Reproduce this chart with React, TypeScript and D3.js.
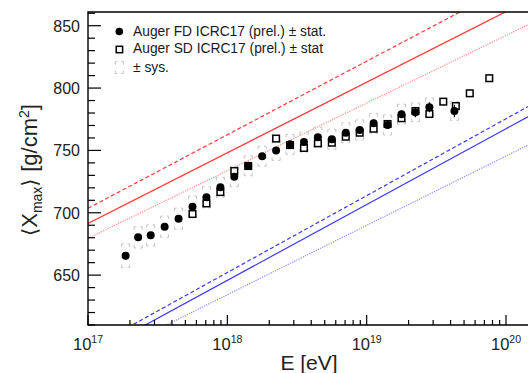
import React, { useEffect, useRef } from 'react';
import * as d3 from 'd3';

// Auger FD (filled circles): log10(E/eV), <Xmax>, stat and sys errors
const fdLgE = [17.27, 17.36, 17.45, 17.55, 17.65, 17.75, 17.85, 17.95, 18.05, 18.15, 18.25, 18.35, 18.45, 18.55, 18.65, 18.75, 18.85, 18.95, 19.05, 19.15, 19.25, 19.35, 19.45, 19.63];
const fdXmax = [665.5, 680.3, 681.9, 688.8, 695.2, 704.8, 712.4, 720.4, 728.9, 737.7, 745.3, 750.0, 754.9, 756.7, 760.5, 758.9, 764.2, 766.4, 771.7, 770.4, 779.0, 780.6, 784.6, 781.6];
const fdStat = [3, 2, 2, 2, 2, 2, 2, 2, 2, 2, 2, 2, 2, 2, 2, 2, 2, 2, 3, 3, 3, 4, 4, 5];
const fdSys = [9.5, 8.5, 8.5, 8.5, 8.5, 8.5, 8.5, 8, 8, 8, 8, 8, 8, 8, 8, 8, 8, 8, 8, 8, 8, 7.5, 7.5, 7.5];

// Auger SD (open squares)
const sdLgE = [17.75, 17.85, 17.95, 18.05, 18.15, 18.35, 18.45, 18.55, 18.65, 18.75, 18.85, 18.95, 19.05, 19.15, 19.25, 19.35, 19.45, 19.55, 19.64, 19.74, 19.88];
const sdXmax = [699.0, 707.5, 716.6, 733.5, 737.5, 759.5, 754.3, 752.0, 755.7, 756.2, 761.0, 764.2, 767.4, 771.2, 775.8, 781.6, 779.2, 789.1, 785.6, 795.8, 807.9];
const sdStat = [2, 2, 2, 2, 2, 2, 2, 2, 2, 2, 2, 2, 2, 2, 2, 2, 2, 2, 3, 3, 3];

// model lines: <Xmax> at 1e17 and 1e20 eV
const lineNames = ['pDash', 'pSolid', 'pDot', 'feDash', 'feSolid', 'feDot'];
const lineAt17 = [703.6, 691.5, 679.5, 590.4, 585.0, 578.7];
const lineAt20 = [880.5, 861.3, 842.2, 775.4, 767.4, 745.5];
const lineColors = ['#ff3a3a', '#ff3a3a', '#ff8c8c', '#3a3aff', '#3a3aff', '#8c8cff'];
const lineDashes = ['4,2.5', null, '1.2,1.2', '4,2.5', null, '1.2,1.2'];

const yTicks = [650, 700, 750, 800, 850];
const xDecades = [17, 18, 19, 20];

const legendLabels = ['Auger FD ICRC17 (prel.) \u00b1 stat.', 'Auger SD ICRC17 (prel.) \u00b1 stat', '\u00b1 sys.'];

const App: React.FC = () => {
  const svgRef = useRef<SVGSVGElement>(null);

  useEffect(() => {
    if (!svgRef.current) return;
    const svg = d3.select(svgRef.current);
    svg.selectAll('*').remove();

    const left = 88, top = 12, bottom = 325, right = 545;
    const x = d3.scaleLog().domain([1e17, 1e20]).range([left, 506]);
    const y = d3.scaleLinear().domain([610, 861]).range([bottom, top]);
    const font = '"Liberation Sans", Arial, Helvetica, sans-serif';

    svg.append('defs').append('clipPath').attr('id', 'plotclip')
      .append('rect').attr('x', left).attr('y', top).attr('width', right - left).attr('height', bottom - top);

    const g = svg.append('g').attr('clip-path', 'url(#plotclip)');

    // model lines
    lineNames.forEach((n, i) => {
      const pts: [number, number][] = [[17, lineAt17[i]], [20, lineAt20[i]]];
      const ln = d3.line<[number, number]>().x(d => x(Math.pow(10, d[0]))).y(d => y(d[1]));
      const p = g.append('path')
        .attr('d', ln(pts.concat([[20.5, lineAt17[i] + (lineAt20[i] - lineAt17[i]) * 3.5 / 3]])))
        .attr('fill', 'none')
        .attr('stroke', lineColors[i])
        .attr('stroke-width', 1.2);
      if (lineDashes[i]) p.attr('stroke-dasharray', lineDashes[i] as string);
    });

    // systematic brackets (FD)
    const sysColor = '#c4c4c4';
    const bracket = (cx: number, cy: number, dir: number) =>
      `M${cx - 4},${cy + 3 * dir}V${cy}H${cx - 2}M${cx + 2},${cy}H${cx + 4}V${cy + 3 * dir}`;
    fdLgE.forEach((e, i) => {
      const cx = x(Math.pow(10, e));
      g.append('path').attr('d', bracket(cx, y(fdXmax[i] + fdSys[i]), 1))
        .attr('fill', 'none').attr('stroke', sysColor).attr('stroke-width', 1);
      g.append('path').attr('d', bracket(cx, y(fdXmax[i] - fdSys[i]), -1))
        .attr('fill', 'none').attr('stroke', sysColor).attr('stroke-width', 1);
    });

    // SD squares with stat errors
    sdLgE.forEach((e, i) => {
      const cx = x(Math.pow(10, e));
      g.append('line').attr('x1', cx).attr('x2', cx)
        .attr('y1', y(sdXmax[i] - sdStat[i])).attr('y2', y(sdXmax[i] + sdStat[i]))
        .attr('stroke', '#000').attr('stroke-width', 1.2);
      g.append('rect').attr('x', cx - 3.3).attr('y', y(sdXmax[i]) - 3.3)
        .attr('width', 6.6).attr('height', 6.6)
        .attr('fill', '#fff').attr('stroke', '#000').attr('stroke-width', 1.5);
    });

    // FD circles with stat errors
    fdLgE.forEach((e, i) => {
      const cx = x(Math.pow(10, e));
      g.append('line').attr('x1', cx).attr('x2', cx)
        .attr('y1', y(fdXmax[i] - fdStat[i])).attr('y2', y(fdXmax[i] + fdStat[i]))
        .attr('stroke', '#000').attr('stroke-width', 1.2);
      g.append('circle').attr('cx', cx).attr('cy', y(fdXmax[i])).attr('r', 4).attr('fill', '#000');
    });

    // frame
    svg.append('path')
      .attr('d', `M${right},${top}H${left}V${bottom}H${right}`)
      .attr('fill', 'none').attr('stroke', '#000').attr('stroke-width', 1.4);

    // y ticks
    d3.range(610, 861, 10).forEach(v => {
      const major = v % 50 === 0;
      svg.append('line').attr('x1', left).attr('x2', left + (major ? 13 : 7))
        .attr('y1', y(v)).attr('y2', y(v)).attr('stroke', '#000').attr('stroke-width', 1.2);
    });
    yTicks.forEach(v => {
      svg.append('text').attr('x', 80).attr('y', y(v) + 5.8)
        .attr('text-anchor', 'end').attr('font-family', font).attr('font-size', 16)
        .attr('fill', '#222').text(v);
    });

    // x ticks
    xDecades.forEach(d => {
      for (let k = 1; k <= 9; k++) {
        const v = k * Math.pow(10, d);
        const px = x(v);
        if (px > 530) continue;
        svg.append('line').attr('x1', px).attr('x2', px)
          .attr('y1', bottom).attr('y2', bottom - (k === 1 ? 10 : 5))
          .attr('stroke', '#000').attr('stroke-width', 1.2);
      }
      const t = svg.append('text').attr('x', x(Math.pow(10, d))).attr('y', 350)
        .attr('text-anchor', 'middle').attr('font-family', font).attr('fill', '#222');
      t.append('tspan').attr('font-size', 16.5).text('10');
      t.append('tspan').attr('font-size', 10.5).attr('dy', -7).text(String(d));
    });

    // axis titles
    svg.append('text').attr('x', 309).attr('y', 370).attr('text-anchor', 'middle')
      .attr('font-family', font).attr('font-size', 21).attr('fill', '#222').text('E [eV]');

    const yt = svg.append('text').attr('transform', 'translate(37,170) rotate(-90)')
      .attr('text-anchor', 'middle').attr('font-family', font).attr('font-size', 22).attr('fill', '#222');
    yt.append('tspan').attr('font-family', '"DejaVu Sans", sans-serif').attr('font-size', 21).text('\u27e8');
    yt.append('tspan').text('X');
    yt.append('tspan').attr('font-size', 14).attr('dy', 5).text('max');
    yt.append('tspan').attr('font-family', '"DejaVu Sans", sans-serif').attr('font-size', 21).attr('dy', -5).text('\u27e9 ');
    yt.append('tspan').text('[g/cm');
    yt.append('tspan').attr('font-size', 14).attr('dy', -8).text('2');
    yt.append('tspan').attr('dy', 8).text(']');

    // legend
    svg.append('circle').attr('cx', 119.3).attr('cy', 31.5).attr('r', 3.8).attr('fill', '#000');
    svg.append('rect').attr('x', 116.2).attr('y', 46.3).attr('width', 6.4).attr('height', 6.4)
      .attr('fill', '#fff').attr('stroke', '#000').attr('stroke-width', 1.5);
    svg.append('path').attr('d', bracket(119.3, 61.5, 1)).attr('fill', 'none').attr('stroke', sysColor);
    svg.append('path').attr('d', bracket(119.3, 73.5, -1)).attr('fill', 'none').attr('stroke', sysColor);
    legendLabels.forEach((l, i) => {
      svg.append('text').attr('x', 133).attr('y', [35.5, 53, 71.5][i])
        .attr('font-family', font).attr('font-size', 13.8).attr('fill', '#1a1a1a').text(l);
    });
  }, []);

  return (
    <svg ref={svgRef} width={528} height={373}
      style={{ position: 'absolute', left: 0, top: 0, background: '#fff' }} />
  );
};

export default App;
